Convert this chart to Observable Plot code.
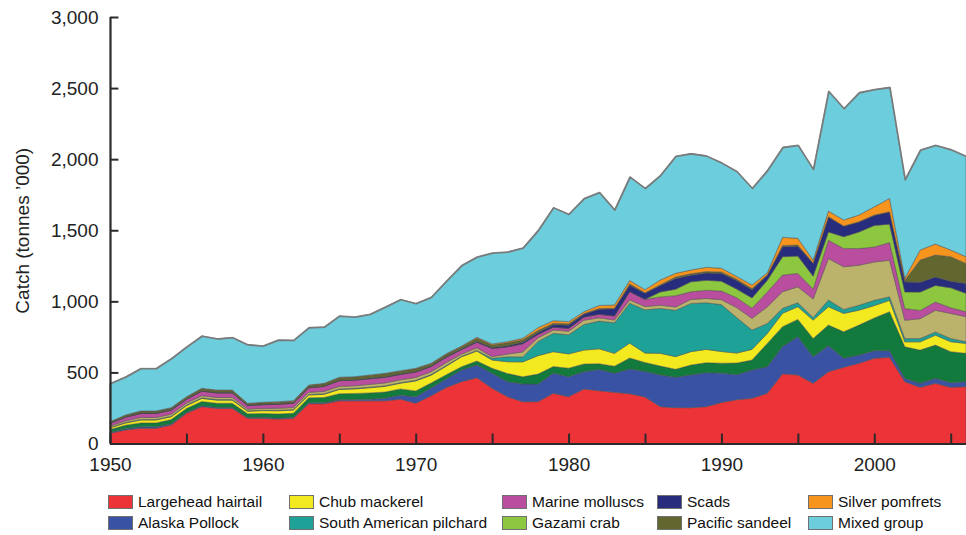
<!DOCTYPE html>
<html><head><meta charset="utf-8">
<script src="https://cdn.jsdelivr.net/npm/d3@7"></script>
<script src="https://cdn.jsdelivr.net/npm/@observablehq/plot@0.6"></script>
<style>
body{margin:0;background:#fff;}
#wrap{position:relative;width:966px;height:535px;font-family:"Liberation Sans",Arial,sans-serif;overflow:hidden;}
.item{position:absolute;display:flex;align-items:center;font-size:15.5px;color:#111;white-space:nowrap;line-height:14px;}
.sw{width:23px;height:12px;border:1px solid #707070;margin-right:5px;box-sizing:content-box;}
</style></head><body><div id="wrap"><div id="chart"></div><div id="legend"></div></div>
<script>
const years = d3.range(1950, 2007);
const hairtail = [72,95,107,107,130,212,259,247,247,177,177,172,177,280,280,300,300,300,300,312,283,335,394,435,463,388,329,294,294,353,329,383,371,360,350,327,259,252,252,259,288,308,318,353,490,482,423,505,536,564,599,606,435,395,423,395,400];
const pollock = [6,8,10,10,8,6,6,6,6,6,6,6,6,6,6,8,10,12,18,28,45,55,60,82,89,106,106,124,124,141,141,122,150,134,174,180,223,214,230,239,207,176,199,187,192,269,187,183,63,58,54,47,23,28,35,33,35];
const otherA = [20,25,28,28,30,28,30,30,30,26,28,30,30,35,38,42,42,44,44,44,42,35,30,23,28,35,58,51,70,47,60,54,40,50,77,63,63,56,70,70,70,82,70,164,140,122,129,145,187,211,230,274,222,234,234,218,199];
const chubMackerel = [12,16,20,20,20,20,22,22,22,18,20,22,22,20,22,30,32,36,40,40,70,55,60,70,70,58,82,105,130,105,100,98,105,90,105,66,89,89,94,94,82,70,75,70,94,89,129,129,129,105,87,80,35,58,70,70,70];
const pilchard = [3,3,4,4,4,4,4,4,4,3,3,4,4,4,4,4,4,4,4,4,5,5,5,4,5,12,35,35,100,129,135,180,195,215,281,304,316,326,339,328,330,250,136,70,35,28,19,47,28,35,37,25,23,23,23,23,12];
const otherB = [10,12,14,14,14,14,15,15,15,12,13,14,14,15,16,18,18,20,20,20,20,20,20,15,18,12,19,35,25,23,25,30,23,20,23,23,23,23,28,30,35,70,82,117,117,112,130,292,300,281,270,257,129,140,152,176,176];
const molluscs = [18,25,28,28,28,27,32,32,32,25,26,28,30,32,36,40,40,40,40,38,38,36,38,32,40,58,51,58,25,20,20,22,25,28,58,51,58,80,54,58,60,70,72,105,117,94,70,129,129,117,105,125,82,58,58,40,35];
const gazami = [0,0,0,0,0,0,0,0,0,0,0,0,0,0,0,0,0,0,0,0,0,0,0,0,0,0,0,0,0,0,0,0,0,0,0,0,35,45,70,70,70,60,72,82,129,122,90,58,82,117,152,129,117,129,117,140,129];
const scads = [2,3,3,3,3,3,3,3,3,3,3,3,3,3,3,3,3,4,4,4,4,4,5,5,6,6,8,10,12,18,22,20,35,50,45,42,45,75,47,51,55,60,58,35,70,70,90,105,75,70,70,85,70,70,60,47,70];
const sandeel = [8,10,12,12,12,12,14,14,14,10,11,12,12,13,15,18,18,19,20,18,18,15,15,15,22,18,20,18,15,10,10,5,5,5,10,5,5,12,10,10,10,10,8,3,8,8,3,2,1,2,3,2,12,156,154,172,140];
const pomfrets = [2,3,3,3,3,3,3,3,3,3,3,3,3,3,3,3,3,3,4,4,4,4,5,5,6,7,8,10,20,18,15,13,22,22,24,21,34,25,26,30,26,19,25,15,58,47,20,40,42,47,58,94,14,70,77,47,48];
const mixed = [270,270,300,300,347,352,370,362,371,414,398,436,427,406,398,433,422,429,468,502,457,466,513,569,567,642,633,637,686,797,757,798,797,671,730,715,738,825,821,786,743,740,682,722,635,657,640,845,786,863,827,783,696,705,696,708,708];

const names = ["Largehead hairtail","Alaska Pollock","Other species A","Chub mackerel","South American pilchard","Other species B","Marine molluscs","Gazami crab","Scads","Pacific sandeel","Silver pomfrets","Mixed group"];
const colors = ["#ec3338","#3a52a3","#117a3c","#f3e91f","#1ea297","#bbb36b","#b94e9e","#8dc63f","#272c7c","#62672f","#f7941e","#6ccddc"];
const valuesList = [hairtail,pollock,otherA,chubMackerel,pilchard,otherB,molluscs,gazami,scads,sandeel,pomfrets,mixed];
const legendOrder = ["Largehead hairtail","Alaska Pollock","Chub mackerel","South American pilchard","Marine molluscs","Gazami crab","Scads","Pacific sandeel","Silver pomfrets","Mixed group"];
const yTicks = [0,500,1000,1500,2000,2500,3000];
const xTicks = [1950,1955,1960,1965,1970,1975,1980,1985,1990,1995,2000,2005];
const xLabels = [1950,1960,1970,1980,1990,2000];
const yTitle = "Catch (tonnes ’000)";

const data = names.flatMap((n, k) => valuesList[k].map((v, i) => ({year: years[i], species: n, catch: v})));
const totals = years.map((y, i) => ({year: y, total: d3.sum(valuesList, a => a[i])}));

const chart = Plot.plot({
  width: 966, height: 480,
  marginLeft: 110, marginRight: 0, marginTop: 17, marginBottom: 36.5,
  style: {fontFamily: "'Liberation Sans', Arial, sans-serif", fontSize: "19px", color: "#222", background: "#fff", overflow: "visible"},
  x: {domain: [1950, 2006], label: null},
  y: {domain: [0, 3000], label: null},
  color: {domain: names, range: colors},
  marks: [
    Plot.areaY(data, {x: "year", y: "catch", z: "species", fill: "species", order: names, stroke: "#4b4b4b", strokeWidth: 0.6, strokeOpacity: 0.8}),
    Plot.lineY(totals, {x: "year", y: "total", stroke: "#7a7a7a", strokeWidth: 1.6}),
    Plot.axisX({ticks: xLabels, tickSize: 0, tickPadding: 13, tickFormat: d => String(d), label: null, fill: "#222"}),
    Plot.axisY({ticks: yTicks, tickSize: 0, tickPadding: 12, tickFormat: d3.format(","), label: null, fill: "#222"}),
    Plot.ruleX(xTicks, {x: d => d, y1: 0, y2: 70, stroke: "#2a2a2a", strokeWidth: 2}),
    Plot.ruleY(yTicks, {y: d => d, x1: 1950, x2: 1950.55, stroke: "#2a2a2a", strokeWidth: 2}),
    Plot.ruleX([1950], {stroke: "#2a2a2a", strokeWidth: 2.2}),
    Plot.ruleY([0], {stroke: "#2a2a2a", strokeWidth: 2.2}),
    Plot.text([yTitle], {frameAnchor: "left", textAnchor: "middle", rotate: -90, dx: -88, fontSize: 19, fill: "#222"})
  ]
});
document.getElementById("chart").appendChild(chart);

const legend = document.getElementById("legend");
const colX = [108, 289, 502, 657, 808];
const rowY = [495, 516];
legendOrder.forEach((n, i) => {
  const col = Math.floor(i / 2), row = i % 2;
  const el = document.createElement("div");
  el.className = "item";
  el.style.left = colX[col] + "px";
  el.style.top = rowY[row] + "px";
  const sw = document.createElement("span");
  sw.className = "sw";
  sw.style.background = colors[names.indexOf(n)];
  el.appendChild(sw);
  el.appendChild(document.createTextNode(n));
  legend.appendChild(el);
});
</script></body></html>
